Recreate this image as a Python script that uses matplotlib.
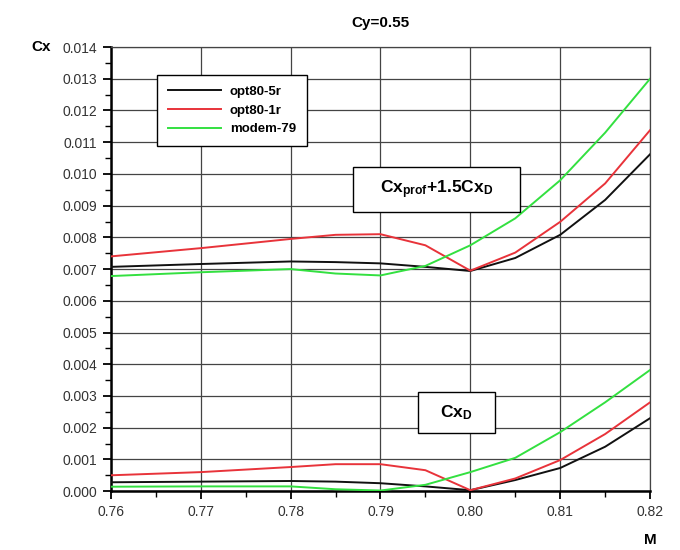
import matplotlib
matplotlib.use('Agg')
import matplotlib.pyplot as plt
import numpy as np
from matplotlib.patches import Rectangle
from matplotlib.ticker import MultipleLocator, FormatStrFormatter

plt.rcParams['font.family'] = ['Liberation Sans', 'DejaVu Sans']
plt.rcParams['mathtext.fontset'] = 'custom'
plt.rcParams['mathtext.rm'] = 'Liberation Sans:bold'
plt.rcParams['mathtext.it'] = 'Liberation Sans:bold'
plt.rcParams['mathtext.bf'] = 'Liberation Sans:bold'

# Mach numbers
M = [0.76, 0.77, 0.78, 0.785, 0.79, 0.795, 0.80, 0.805, 0.81, 0.815, 0.82]

# Cx_prof + 1.5 Cx_D
top_5r = [0.00707, 0.00716, 0.00724, 0.00722, 0.00718, 0.00707, 0.00694, 0.00735, 0.00808, 0.00918, 0.01062]
top_1r = [0.00740, 0.00766, 0.00795, 0.00808, 0.00810, 0.00775, 0.00695, 0.00752, 0.00849, 0.00970, 0.01138]
top_m79 = [0.00678, 0.00690, 0.00700, 0.00686, 0.00680, 0.00710, 0.00775, 0.00860, 0.00980, 0.01130, 0.01300]

# Cx_D
low_5r = [0.00028, 0.00030, 0.00032, 0.00030, 0.00025, 0.00015, 0.00003, 0.00035, 0.00073, 0.00140, 0.00230]
low_1r = [0.00050, 0.00060, 0.00076, 0.00085, 0.00085, 0.00066, 0.00003, 0.00040, 0.00098, 0.00180, 0.00280]
low_m79 = [0.00014, 0.00015, 0.00015, 0.00006, 0.00002, 0.00020, 0.00060, 0.00105, 0.00186, 0.00280, 0.00382]

names = ['opt80-5r', 'opt80-1r', 'modem-79']
colors = ['#111111', '#e8333a', '#33e040']

fig = plt.figure(figsize=(6.8, 5.5), dpi=100)
ax = fig.add_axes([0.163, 0.107, 0.793, 0.8075])

for top, low, c, n in zip([top_5r, top_1r, top_m79], [low_5r, low_1r, low_m79], colors, names):
    ax.plot(M, top, color=c, lw=1.4, label=n, zorder=3)
    ax.plot(M, low, color=c, lw=1.4, zorder=3)

ax.set_xlim(0.76, 0.82)
ax.set_ylim(0.0, 0.014)
ax.xaxis.set_major_locator(MultipleLocator(0.01))
ax.xaxis.set_minor_locator(MultipleLocator(0.005))
ax.yaxis.set_major_locator(MultipleLocator(0.001))
ax.yaxis.set_minor_locator(MultipleLocator(0.0005))
ax.xaxis.set_major_formatter(FormatStrFormatter('%.2f'))
ax.yaxis.set_major_formatter(FormatStrFormatter('%.3f'))
ax.grid(True, which='major', color='#444444', lw=0.9, zorder=1)
ax.set_axisbelow(True)

for s in ['left', 'bottom']:
    ax.spines[s].set_linewidth(1.8)
for s in ['top', 'right']:
    ax.spines[s].set_linewidth(0.9)
    ax.spines[s].set_color('#444444')
ax.tick_params(which='major', direction='out', length=6, width=1.3, labelsize=10, labelcolor='#333333', pad=4)
ax.tick_params(which='minor', direction='out', length=4, width=1.0)

fig.text(0.56, 0.958, 'Cy=0.55', ha='center', va='center', fontsize=11, fontweight='bold')
fig.text(0.06, 0.914, 'Cx', ha='center', va='center', fontsize=11, fontweight='bold')
fig.text(0.956, 0.018, 'M', ha='center', va='center', fontsize=11, fontweight='bold')

leg = ax.legend(loc='upper left', bbox_to_anchor=(0.074, 0.952), fancybox=False, framealpha=1,
                edgecolor='black', handlelength=4.0, prop={'weight': 'bold', 'size': 9.5},
                borderpad=0.8, labelspacing=0.5, handletextpad=0.7)
leg.get_frame().set_linewidth(1.0)

# label boxes (axes fraction)
ax.add_patch(Rectangle((0.449, 0.628), 0.310, 0.102, transform=ax.transAxes,
                       fc='white', ec='black', lw=1.0, zorder=5))
ax.text(0.604, 0.679, r'$\mathrm{Cx_{prof}{+}1.5Cx_D}$', transform=ax.transAxes,
        ha='center', va='center', fontsize=12.5, zorder=6)
ax.add_patch(Rectangle((0.570, 0.131), 0.142, 0.092, transform=ax.transAxes,
                       fc='white', ec='black', lw=1.0, zorder=5))
ax.text(0.641, 0.177, r'$\mathrm{Cx_D}$', transform=ax.transAxes,
        ha='center', va='center', fontsize=12.5, zorder=6)

fig.savefig('out.png', dpi=100)
